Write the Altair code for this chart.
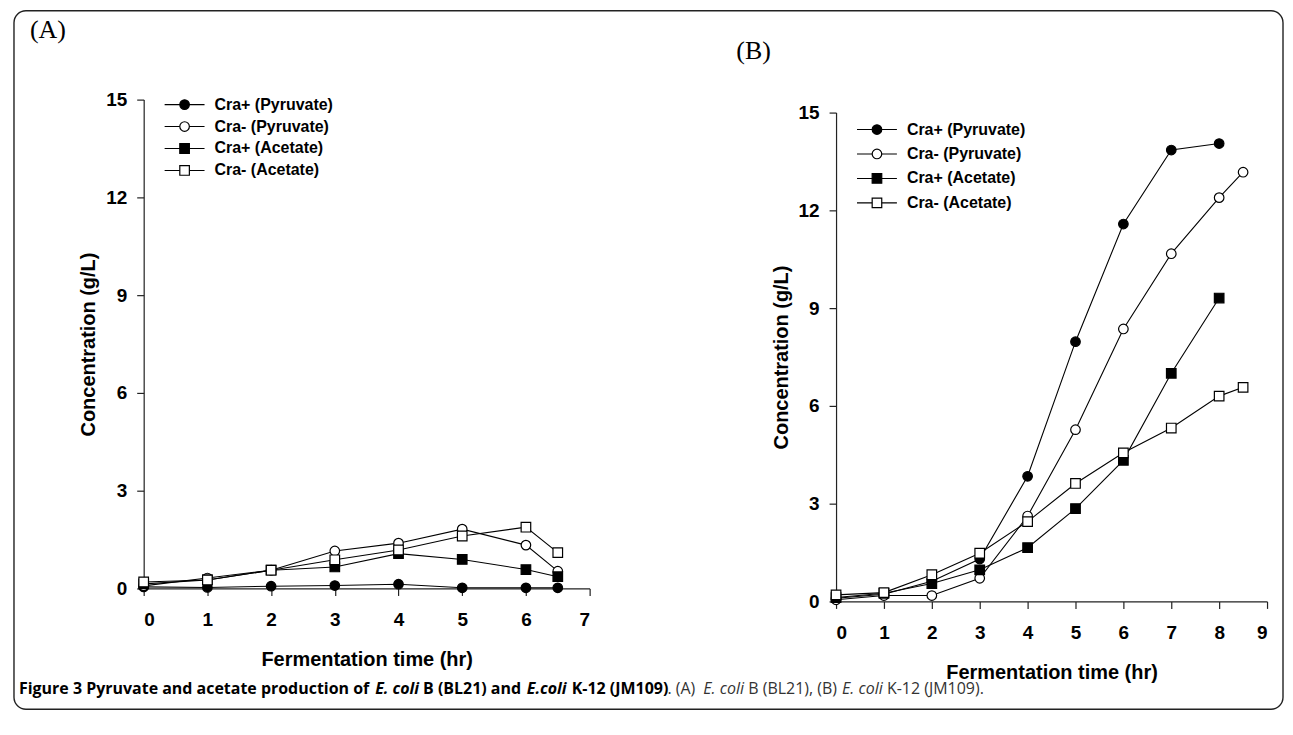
import altair as alt
import pandas as pd

# ---------------- data ----------------
series_names = ["Cra+ (Pyruvate)", "Cra- (Pyruvate)", "Cra+ (Acetate)", "Cra- (Acetate)"]

# Panel A: E. coli B (BL21)
a_time = [0, 1, 2, 3, 4, 5, 6, 6.5]
a_cra_plus_pyruvate = [0.05, 0.03, 0.07, 0.09, 0.13, 0.02, 0.02, 0.02]
a_cra_minus_pyruvate = [0.08, 0.32, 0.56, 1.15, 1.39, 1.82, 1.33, 0.53]
a_cra_plus_acetate = [0.14, 0.26, 0.56, 0.66, 1.07, 0.89, 0.58, 0.36]
a_cra_minus_acetate = [0.20, 0.26, 0.56, 0.88, 1.18, 1.61, 1.88, 1.10]

# Panel B: E. coli K-12 (JM109)
b_time_short = [0, 1, 2, 3, 4, 5, 6, 7, 8]
b_time_long = [0, 1, 2, 3, 4, 5, 6, 7, 8, 8.5]
b_cra_plus_pyruvate = [0.10, 0.22, 0.62, 1.30, 3.84, 7.97, 11.58, 13.85, 14.05]
b_cra_minus_pyruvate = [0.05, 0.18, 0.18, 0.71, 2.62, 5.27, 8.36, 10.67, 12.39, 13.17]
b_cra_plus_acetate = [0.12, 0.25, 0.55, 0.97, 1.65, 2.85, 4.33, 7.00, 9.31]
b_cra_minus_acetate = [0.20, 0.27, 0.82, 1.48, 2.45, 3.62, 4.56, 5.32, 6.30, 6.57]

y_ticks = [0, 3, 6, 9, 12, 15]
a_x_ticks = [0, 1, 2, 3, 4, 5, 6, 7]
b_x_ticks = [0, 1, 2, 3, 4, 5, 6, 7, 8, 9]

marker_shapes = ["circle", "circle", "square", "square"]
marker_fills = ["black", "white", "black", "white"]

caption_segments = [
    ("Figure 3 Pyruvate and acetate production of", "bold", "normal", 17),
    ("E. coli", "bold", "italic", 374),
    ("B (BL21) and", "bold", "normal", 422),
    ("E.coli", "bold", "italic", 526),
    ("K-12 (JM109)", "bold", "normal", 571),
    (". (A)", "normal", "normal", 667),
    ("E. coli", "normal", "italic", 703),
    ("B (BL21), (B)", "normal", "normal", 748),
    ("E. coli", "normal", "italic", 842),
    ("K-12 (JM109).", "normal", "normal", 887),
]


def long_df(time_lists, value_lists):
    rows = []
    for i, (name, ts, vs) in enumerate(zip(series_names, time_lists, value_lists)):
        for t, v in zip(ts, vs):
            rows.append({"series": name, "order": i, "time": t, "conc": v})
    return pd.DataFrame(rows)


df_a = long_df([a_time] * 4, [a_cra_plus_pyruvate, a_cra_minus_pyruvate,
                              a_cra_plus_acetate, a_cra_minus_acetate])
df_b = long_df([b_time_short, b_time_long, b_time_short, b_time_long],
               [b_cra_plus_pyruvate, b_cra_minus_pyruvate,
                b_cra_plus_acetate, b_cra_minus_acetate])

shape_scale = alt.Scale(domain=series_names, range=marker_shapes)
fill_scale = alt.Scale(domain=series_names, range=marker_fills)

AX_FONT = "Liberation Sans, Arial, sans-serif"
MARK_SIZE = 92
one = pd.DataFrame({"k": [0]})


def panel(df, xticks, width, height, yrange, legend_top, legend_step,
          tag, tag_x, tag_y, extras=None):
    x = alt.X("time:Q",
              scale=alt.Scale(domain=[xticks[0], xticks[-1]], nice=False),
              axis=alt.Axis(values=xticks, title="Fermentation time (hr)",
                            labelPadding=15, titlePadding=20, format="d"))
    y = alt.Y("conc:Q",
              scale=alt.Scale(domain=[0, 15], nice=False, range=yrange),
              axis=alt.Axis(values=y_ticks, title="Concentration (g/L)",
                            labelPadding=10, titlePadding=7, format="d"))
    base = alt.Chart(df)
    lines = base.mark_line(color="black", strokeWidth=1.1).encode(
        x=x, y=y, detail="series:N", order="time:Q")
    points = base.mark_point(filled=True, size=MARK_SIZE, stroke="black",
                             strokeWidth=1.2, opacity=1).encode(
        x=x, y=y,
        shape=alt.Shape("series:N", scale=shape_scale, legend=None),
        fill=alt.Fill("series:N", scale=fill_scale, legend=None),
        order="order:Q")
    layers = [lines, points]
    # hand-built legend (line through marker + label)
    for i, name in enumerate(series_names):
        ly = legend_top + i * legend_step
        ldata = pd.DataFrame({"series": [name]})
        layers.append(alt.Chart(ldata).mark_rule(color="black", strokeWidth=1.1).encode(
            x=alt.value(21), x2=alt.value(61), y=alt.value(ly)))
        layers.append(alt.Chart(ldata).mark_point(filled=True, size=MARK_SIZE, stroke="black",
                                                  strokeWidth=1.2, opacity=1).encode(
            x=alt.value(41), y=alt.value(ly),
            shape=alt.Shape("series:N", scale=shape_scale, legend=None),
            fill=alt.Fill("series:N", scale=fill_scale, legend=None)))
        layers.append(alt.Chart(ldata).mark_text(
            align="left", baseline="middle", font=AX_FONT, fontSize=16,
            fontWeight="bold", color="black").encode(
            x=alt.value(71), y=alt.value(ly), text="series:N"))
    layers.append(alt.Chart(one).mark_text(
        text=tag, align="left", baseline="alphabetic",
        font="Liberation Serif, Times New Roman, serif", fontSize=26,
        color="black").encode(x=alt.value(tag_x), y=alt.value(tag_y)))
    if extras:
        layers.extend(extras)
    return alt.layer(*layers).properties(width=width, height=height)


# border of the whole figure and caption (drawn relative to panel A)
border = alt.Chart(one).mark_rect(fill="white", fillOpacity=0, stroke="#222",
                                  strokeWidth=1.4, cornerRadius=12).encode(
    x=alt.value(-130), x2=alt.value(1142), y=alt.value(-89), y2=alt.value(611))

caption_layers = []
for text, weight, style, px in caption_segments:
    caption_layers.append(alt.Chart(one).mark_text(
        text=text, align="left", baseline="alphabetic",
        font="Open Sans, Noto Sans, sans-serif", fontSize=16,
        fontWeight=weight, fontStyle=style,
        color="black" if weight == "bold" else "#333").encode(
        x=alt.value(px - 142), y=alt.value(596)))

panel_a = panel(df_a, a_x_ticks, 447, 490, [490, 0], 5, 22,
                "(A)", -114, -62, extras=[border] + caption_layers)
panel_b = panel(df_b, b_x_ticks, 432, 503, [503, 13], 30, 24.5,
                "(B)", -100, -41)

chart = alt.hconcat(panel_a, panel_b, spacing=247, bounds="flush").properties(
    padding={"left": 4, "top": 0, "right": 0, "bottom": 0}
).configure_axis(
    labelFont=AX_FONT, labelFontSize=19, labelFontWeight="bold", labelColor="black",
    titleFont=AX_FONT, titleFontSize=20, titleFontWeight="bold", titleColor="black",
    tickSize=7, tickColor="#222", domainColor="#222", tickWidth=1.2, domainWidth=1.2,
    grid=False
).configure_view(stroke="transparent")

chart.save("out.html", embed_options={"renderer": "svg", "actions": False})
